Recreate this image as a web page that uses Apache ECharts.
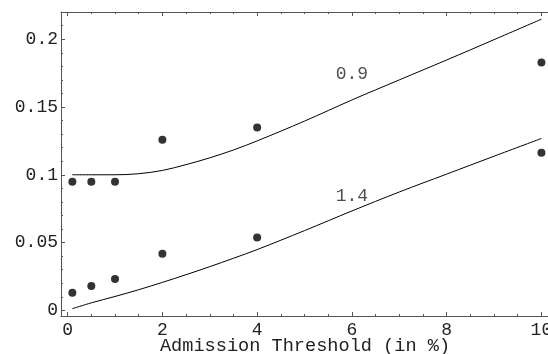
<!DOCTYPE html>
<html>
<head>
<meta charset="utf-8">
<script src="https://cdn.jsdelivr.net/npm/echarts@6/dist/echarts.min.js"></script>
<style>html,body{margin:0;padding:0;background:#fff}#c{width:548px;height:354px}</style>
</head>
<body>
<div id="c"></div>
<script>
// Data
const threshold = [0.1, 0.5, 1, 2, 4, 10];
const dots09 = [0.0948, 0.0948, 0.0948, 0.1258, 0.1349, 0.1829];
const dots14 = [0.0130, 0.0180, 0.0231, 0.0417, 0.0538, 0.1162];

const curveX = [0.1, 0.5, 1, 1.5, 2, 2.5, 3, 3.5, 4, 5, 6, 7, 8, 9, 10];
const curve09 = [0.1000, 0.1000, 0.1000, 0.1008, 0.1032, 0.1075, 0.1125, 0.1183, 0.1250, 0.1396, 0.1552, 0.1700, 0.1847, 0.1997, 0.2148];
const curve14 = [0.0012, 0.0055, 0.0102, 0.0152, 0.0206, 0.0263, 0.0322, 0.0384, 0.0448, 0.0588, 0.0733, 0.0873, 0.1005, 0.1137, 0.1268];

const curveLabels = ['0.9', '1.4'];
const labelX = [6.0, 6.0];
const labelY = [0.174, 0.0842];

const xTicks = [0, 2, 4, 6, 8, 10];
const xMinor = [0.5, 1, 1.5, 2.5, 3, 3.5, 4.5, 5, 5.5, 6.5, 7, 7.5, 8.5, 9, 9.5];
const yTicks = [0, 0.05, 0.1, 0.15, 0.2];
const yMinor = [0.01, 0.02, 0.03, 0.04, 0.06, 0.07, 0.08, 0.09, 0.11, 0.12, 0.13, 0.14, 0.16, 0.17, 0.18, 0.19, 0.21, 0.22];
const xTitle = 'Admission Threshold (in %)';

const FONT = 'Liberation Mono';
const AX = '#555';
const xMin = -0.14, xMax = 10.16, yMin = -0.0042, yMax = 0.2201;

function xAx(pos, ticks, len, lineShow, labels) {
  return {
    type: 'value', min: xMin, max: xMax, position: pos,
    axisLine: { show: lineShow, onZero: false, lineStyle: { color: AX, width: 1 } },
    axisTick: { show: true, inside: true, length: len, customValues: ticks, lineStyle: { color: AX, width: 1 } },
    axisLabel: labels ? { show: true, customValues: ticks, margin: 5, color: '#222', fontFamily: FONT, fontSize: 18 } : { show: false },
    splitLine: { show: false }
  };
}
function yAx(ticks, len, lineShow, labels) {
  return {
    type: 'value', min: yMin, max: yMax, position: 'left',
    axisLine: { show: lineShow, onZero: false, lineStyle: { color: AX, width: 1 } },
    axisTick: { show: true, inside: true, length: len, customValues: ticks, lineStyle: { color: AX, width: 1 } },
    axisLabel: labels ? { show: true, customValues: ticks, margin: 3, color: '#222', fontFamily: FONT, fontSize: 18 } : { show: false },
    splitLine: { show: false }
  };
}

const xMain = xAx('bottom', xTicks, 4, true, true);
xMain.name = xTitle;
xMain.nameLocation = 'middle';
xMain.nameGap = 21;
xMain.nameMoveOverlap = false;
xMain.nameTextStyle = { color: '#222', fontFamily: FONT, fontSize: 18.6 };

const chart = echarts.init(document.getElementById('c'), null, { renderer: 'canvas' });
chart.setOption({
  animation: false,
  backgroundColor: '#fff',
  grid: { left: 61, right: -1, top: 12, bottom: 38, containLabel: false, outerBoundsMode: 'none' },
  xAxis: [
    xMain,
    xAx('bottom', xMinor, 2, false, false),
    xAx('top', xTicks, 4, true, false),
    xAx('top', xMinor, 2, false, false)
  ],
  yAxis: [
    yAx(yTicks, 4, true, true),
    yAx(yMinor, 2, false, false)
  ],
  series: [
    { type: 'line', xAxisIndex: 0, yAxisIndex: 0, data: curveX.map((x, i) => [x, curve09[i]]), symbol: 'none', smooth: 0.35, lineStyle: { color: '#000', width: 1 } },
    { type: 'line', xAxisIndex: 0, yAxisIndex: 0, data: curveX.map((x, i) => [x, curve14[i]]), symbol: 'none', smooth: 0.35, lineStyle: { color: '#000', width: 1 } },
    { type: 'scatter', xAxisIndex: 0, yAxisIndex: 0, data: threshold.map((x, i) => [x, dots09[i]]), symbol: 'circle', symbolSize: 8, itemStyle: { color: '#000' } },
    { type: 'scatter', xAxisIndex: 0, yAxisIndex: 0, data: threshold.map((x, i) => [x, dots14[i]]), symbol: 'circle', symbolSize: 8, itemStyle: { color: '#000' } },
    { type: 'scatter', xAxisIndex: 0, yAxisIndex: 0, symbolSize: 0, silent: true,
      data: curveLabels.map((t, i) => [labelX[i], labelY[i], t]),
      label: { show: true, position: 'inside', formatter: p => p.data[2], color: '#222', fontFamily: FONT, fontSize: 18 } }
  ]
});
</script>
</body>
</html>
